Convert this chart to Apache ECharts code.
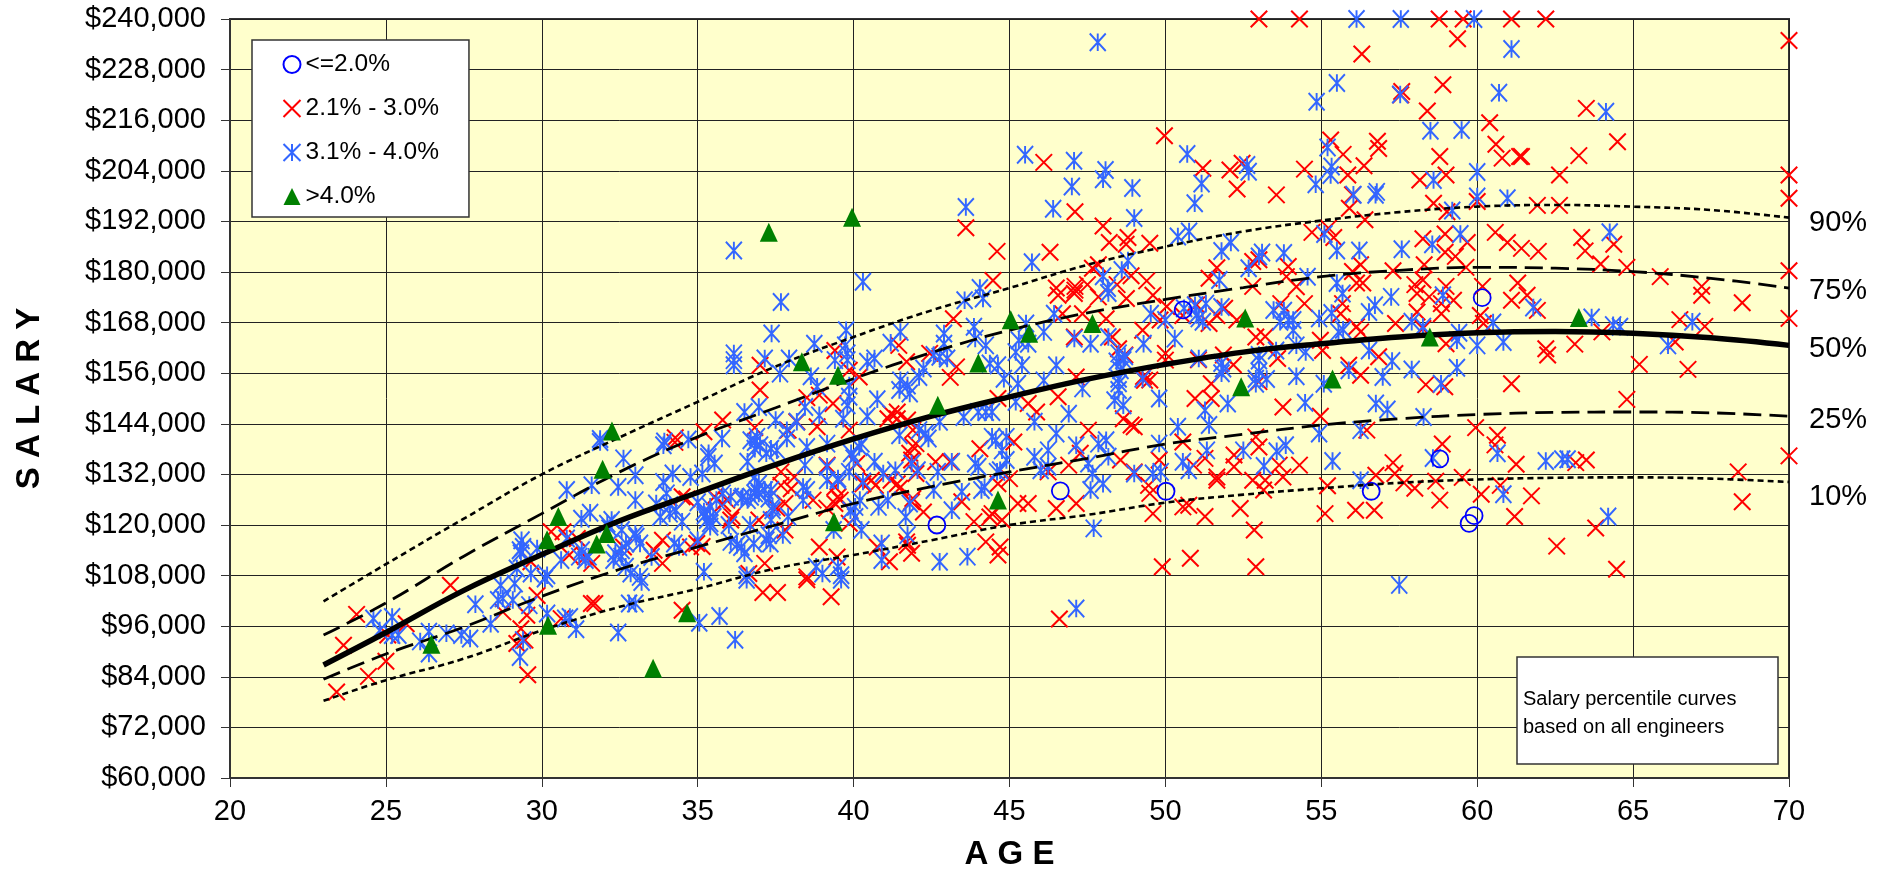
<!DOCTYPE html>
<html><head><meta charset="utf-8">
<style>html,body{margin:0;padding:0;background:#fff}#c{width:1889px;height:870px}</style>
<script src="https://cdn.jsdelivr.net/npm/echarts@6/dist/echarts.min.js"></script>
</head><body><div id="c"></div>
<script>
const curveAge=[23,25,27.5,30,32.5,35,37.5,40,42.5,45,47.5,50,52.5,55,57.5,60,62.5,65,67.5,70];
const p90=[101.9,110.7,121.5,132,140.8,149.2,157.6,164.6,170.9,176.2,181.7,186,189.6,192.2,194.2,195.5,195.9,195.5,194.7,192.9];
const p75=[93.9,101.5,112.6,122.7,132.6,140.9,147.8,154.7,160.9,166.2,170.3,173.5,176.3,178.9,180.4,181.1,180.9,180.1,178.5,176.2];
const p50=[86.8,94.5,104.5,113,121,127.7,134.3,140.4,145.8,150.4,154.6,158.1,161,163,164.6,165.6,165.9,165.5,164.4,162.6];
const p25=[83.4,89.4,95.8,103.1,109.5,114.8,120,125.1,129.1,132.6,135.8,139.2,141.5,143.7,145.2,146.2,146.7,146.8,146.6,145.8];
const p10=[78.3,83.2,88.3,95,100.6,104.9,109.7,112.9,116.4,120,122.4,125.3,127.2,128.7,130,130.8,131.2,131.3,131,130.2];
const circlePts=[[60.16,173.9],[50.57,171],[42.67,120],[46.63,128.1],[50.02,128],[58.8,135.7],[56.6,128],[59.74,120.4],[59.9,122.2]];
const trianglePts=[[37.28,189.4],[39.95,193],[38.34,158.7],[39.5,155.5],[42.7,148.4],[44,158.4],[45.04,168.7],[45.63,165.5],[47.66,167.8],[52.56,169.1],[52.43,152.8],[44.63,125.9],[39.37,120.8],[63.26,169.2],[58.48,164.6],[55.36,154.6],[32.25,142.3],[31.95,133.2],[30.53,122],[30.17,116.5],[32.08,118],[31.76,115.5],[26.46,91.7],[30.2,96.2],[33.57,86],[34.66,99.2]];
const redPts=[
[43.2,168.9],[41.45,162.6],[41.7,158.7],[42.44,160.7],[43.3,157.5],[43.1,155],[37,157.9],[37,152],[39.4,161.4],[39.86,156.7],[40.18,155.1],[38.5,150.2],[38.9,150.8],[39.34,148.8],[35.8,144.9],[35.2,142.1],[34.28,140.7],[36.83,143.1],[38.83,143.3],[38.18,144.5],[37.9,142.5],[41.2,146.4],[41.4,146.8],[41.1,145.2],[41.4,145.2],[41.73,144.9],[39.86,142.5],[41.9,142.5],[42,139.3],[41.8,137],[39.15,134.2],[40.1,134.6],[37.67,132.6],[38.1,131.4],[37.67,129.4],[38,128.6],[37.8,125.1],[38.7,125.9],[39.4,129],[39.5,126.7],[35.8,125.1],[35.54,126.7],[36.06,121.2],[36.96,121.2],[37.8,118.8],[40.3,129.8],[40.57,130.6],[40.7,129.4],[41.2,130.6],[41.4,129.8],[41.47,128.7],[41.86,135.4],[42,132.2],[42.63,135],[43.1,135],[42.24,123.1],[41.86,125.5],[43.86,120.8],[44.44,122.7],[44.37,121.9],[44.76,121.2],[43.47,125.5],[44.63,129.8],[45,131],[44.05,138.1],[45.14,139.7],[45.27,125.1],[45.6,125.1],[46.5,123.9],[47.14,125.1],[44.24,116],[44.7,114.8],[44.63,112.9],[46.24,132.6],[46.9,134.2],[47.27,137],[47.53,142.5],[48.56,135.4],[49,132.6],[49.46,129.4],[49.5,127.5],[49.6,122.7],[49.8,135.4],[50.56,124.3],[50.75,124.7],[51.27,122],[50.56,139.7],[50.9,134.2],[51.27,135.8],[52.2,136.6],[52.2,133.8],[51.65,131.4],[51.65,130.6],[52.8,130.6],[52.4,123.9],[48.65,145.2],[49,143.3],[48.9,143.7],[50.95,150],[51.47,153.5],[51.47,150],[49.9,110.1],[50.8,112.1],[52.9,110.1],[46.56,174.5],[47.08,174.9],[47.85,174.1],[48.75,173.7],[49.6,174.5],[46.7,170.1],[48.1,168.9],[47.34,170.1],[49.27,166.2],[50.56,169.7],[51.4,167.8],[51.65,169.7],[47.08,164.6],[48.3,164.6],[48.5,161.8],[48.7,160.3],[47.14,155.1],[46.56,150.4],[49.33,154.3],[50,159.1],[50,160.7],[45.6,148.8],[45.87,146.8],[44.63,150],[38.9,114.8],[39.47,112.4],[37.15,110.9],[36.64,108.5],[38.5,107.7],[41.15,111.3],[40.76,114.8],[41.73,115.2],[41.86,113.3],[33.87,116.4],[33.6,114],[33.87,110.9],[34.77,114.8],[39.86,120.4],[39.4,125.1],[34.5,126.7],[35.93,125.9],
[53,240],[49.97,212.3],[46.1,206],[51.2,204.6],[52.07,204.2],[52.46,205.8],[52.3,199.7],[47.1,194.3],[43.6,190.5],[48,190.9],[48.8,188.2],[48.2,187],[49.5,186.8],[44.6,184.9],[46.3,184.7],[44.47,178],[47.66,180.9],[47.85,181.7],[48.9,179.1],[49.4,177.9],[48.45,177],[51.65,181],[51.4,178.5],[53,182.9],[52.8,176.6],[47.5,177],[47.1,176.6],[46.5,176.2],
[54.3,240],[58.78,240],[59.55,240],[61.1,240],[62.2,240],[59.37,235.3],[56.3,231.7],[70,234.9],[58.9,224.4],[57.55,222],[57.58,222.8],[58.4,218.2],[60.4,215.4],[63.5,218.8],[60.6,210.3],[64.5,210.9],[55.3,211.3],[56.8,211],[56.84,209.3],[55.7,207.9],[58.8,207.4],[60.8,207],[61.36,207.4],[61.42,207.4],[63.26,207.6],[54.46,204.4],[56.37,205.2],[55.85,203],[58.16,201.8],[59,203],[62.64,203],[70,203],[70,197.5],[53.56,198.3],[56,198.3],[55.9,195.1],[56.4,192.4],[58.6,196.3],[59.03,194.3],[60,196.7],[61.93,195.8],[62.64,195.8],[54.7,189.4],[55.23,190.4],[55.4,188.2],[58.26,187.9],[58.97,189],[59.68,187],[60.58,189.4],[60.97,187],[61.42,185.6],[61.96,184.9],[63.35,188.2],[63.46,185],[64.38,186.6],[63.96,181.9],[64.8,181.1],[65.87,178.9],[70,180.3],[58.97,184.7],[59.3,183.7],[58.3,181.7],[59.64,181.1],[56.26,181.7],[57.3,180.3],[56,180.1],[53.94,181.3],[53.88,178.9],[56.13,177.4],[56.33,177.4],[58.26,178.1],[58,177],[59,176.6],[60.17,176.6],[61.3,177.4],[67.2,176.6],
[54.46,172.5],[53.7,172.5],[55.68,172.5],[58.07,174.9],[58.46,174.1],[59.24,173.3],[58.85,172.5],[58.07,170.5],[58.85,170.1],[60.1,169.7],[61.1,173.3],[61.6,174.5],[61.93,170.9],[67.2,174.5],[68.5,172.7],[66.5,168.7],[67.3,167.1],[70,169],[57.38,167.8],[56.13,167],[56.26,165.8],[55.62,170.1],[58.26,166.6],[60.2,167.8],[52.9,164.6],[54.97,163.8],[55.04,161.4],[53.6,159.5],[59,163],[62.2,161.8],[62.26,160.3],[63.13,162.9],[64,165.8],[66.35,163.4],[56.84,159.9],[55.88,157.9],[56.26,155.5],[58.35,153.3],[58.96,152.8],[61.1,153.5],[65.2,158.1],[66.76,156.9],[64.8,149.8],[53.77,148],[54.97,145.8],[56.46,142.5],[59.95,143.1],[60.65,141.3],[60.57,139],[58.88,139.2],[52.9,140.9],[53,138.5],[53.65,134.2],[54.3,134.2],[53.77,131.4],[53.2,130.6],[53.15,128.3],[55.2,129.3],[56.75,131.8],[57.3,134.8],[57.36,132.2],[57.65,130],[58,128.7],[58.67,130.4],[59.52,131.3],[60.74,129.4],[61.25,134.4],[61.74,126.9],[60.13,127.3],[58.8,125.9],[63.5,135.4],[63.16,134.8],[68.37,132.6],[70,136.4],[68.5,125.5],[56.7,123.5],[56.1,123.5],[55.12,122.7],[61.2,122],[63.8,119.3],[62.55,115],[64.47,109.5],[52.85,118.8],
[23.42,80.4],[24.44,84.1],[23.64,91.5],[24.06,98.8],[25,87.7],[25.06,93.9],[25.65,96.6],[27.07,105.7],[28.75,99.4],[29.33,95.4],[29.2,91.9],[29.46,92.7],[29.55,84.5],[29.52,98.6],[29.85,103.3],[30.62,97.8],[31.59,101.4],[31.7,101.4],
[30.3,118.4],[30.68,118.4],[31.14,116.8],[30.88,112.9],[31.4,112.5],[31.6,110.9],[29.65,111.3],[32.62,114.8],[37.09,104],[37.56,104],[38.5,107],[39.28,103],[34.5,99.8],[46.6,97.7]
];
const redExtra=[
[30.37,118.7],[30.7,118.3],[31.1,117.1],[30.9,112.8],[31.3,112.8],[31.55,111.6],[32.5,114.4],[33.8,116.8],[33.63,114],[33.9,111.2],[29.63,110.8],[34.65,126.2],[34.97,115.6],[34.27,139.6],
[35.24,142.1],[36.84,143.3],[38.82,143.3],[37.75,132.6],[38,129],[38.2,131.8],[37.75,125.1],[37.54,124],[39.36,129],[39.57,125.9],[38.66,125.9],[39.14,124],[40.2,135],[40.3,130.3],[40.8,129.5],[40.7,130.7],[41.4,130.3],[41.5,129.5],[42.25,123.1],[41.9,126.3],[41.76,135.4],[42.57,135.4],[41.9,138.6],[36.1,122],[36.96,121.2],[37.8,119.2],[35.83,125.1],[35.5,127],[39.95,120],[38.88,114.9],[37.1,110.9],[39.4,112.5],[40.75,114.5],[41.17,111.3],[41.7,116],[41.8,113.7],[35.14,114.9],
[48.12,186.4],[48.74,186.6],[49.48,186.6],[47.85,181.7],[47.64,180.9],[48.92,178.9],[48.44,177.3],[47.1,175.7],[47.58,176.5],[47.96,173.4],[48.76,173.5],[49.4,177.7],[49.56,175],[46.67,174.6],[46.8,170.2],[47.3,169.4],[48.1,169],[50.04,171.8],[49.83,168.6],[50.6,169.8],[49.24,165.9],[48.22,165],[47.05,165],[48.28,163.9],[48.6,160.7],[50.04,160.3],[49.94,158.8],[51.06,159.2],[51.43,153.6],[49.3,155.2],[49.5,154.4],[51.65,181.3],[51.38,178.5],[52.8,182.5],[52.72,176.1],[54,181.3],[53.9,178.5],[53.7,172.7],[54.2,176.5],[53.2,164.7],[53.68,160],[52.29,168.6],[51.9,171.4],[51.65,169.8],[51.38,167.8],[51,172.2],[52.18,158],[51.86,160.3],[47.15,155.6],[53,154]
];
const bluePts=[
[37.67,172.9],[37.37,165.4],[36.16,159.1],[36.16,160.7],[36.16,157.9],[37.15,159.5],[37.93,159.5],[37.64,155.9],[38.74,163],[38.63,155.3],[39.76,166.2],[39.73,162.6],[39.8,160.7],[39.8,159.1],[39.4,159.1],[40.44,158.7],[40.67,159.5],[41.5,165.8],[41.19,163.2],[42.9,165.4],[42.9,163],[43.86,167],[43.9,164.2],[44.24,162.6],[43.56,173.3],[44.15,173.7],[42.57,160.3],[42.76,159.9],[43,159.5],[42.24,157.1],[42.1,155.1],[41.5,154.3],[41.73,153.1],[41.47,152],[41.8,151.2],[40.76,149.8],[39.86,153.1],[39.86,150.4],[39.8,148.4],[38.83,152.8],[38.44,148],[38.9,146],[36.5,146.8],[36.96,148],[37.5,144.9],[38.18,144.5],[37.86,140.5],[37.86,142.5],[40.44,145.8],[39.67,145.2],[34.7,140.3],[35.35,137],[35.54,134.6],[33.93,139.8],[36.7,140.1],[36.9,140.9],[37,138.9],[36.83,138.1],[37.35,138.1],[37.2,137],[37.54,137.7],[36.6,135],[38.5,138.5],[38.44,134.2],[39.15,139.3],[41.47,141.3],[42.1,142.5],[42.4,140.5],[42.3,141.7],[40.25,139.3],[40.18,138.5],[39.92,137],[40.67,135],[39.15,133.8],[39.86,132.6],[39.5,131],[41.34,133],[40.95,132.2],[41.86,134.6],[42.05,133],[42.7,132.6],[33,131.8],[33.9,130.2],[34.2,132.2],[34.77,131.4],[35.15,132.2],[34,127.5],[33,125.9],[33.67,125.1],[34.1,122.7],[34.3,123.5],[33.8,121.9],[34.5,120.8],[35.4,124.3],[35.5,121.9],[35.3,121.2],[35.4,119.6],[35.8,127.5],[36.06,126.7],[36.44,126.7],[36.7,126.7],[36.83,131.4],[36.96,129.8],[36.96,127.5],[37.15,128.3],[37.35,128.3],[37.28,126.3],[37.4,123.5],[37.35,121.2],[36.83,127.5],[36.4,126.3],[38.38,129],[38.38,125.9],[38.5,128.3],[39.15,130.6],[39.5,130.6],[40.05,124.3],[40.05,121.9],[39.9,123.5],[40.25,118.8],[41.1,125.9],[40.8,124.3],[41.67,121.9],[41.8,125.1],[41.73,117.6],[43.15,123.5],[43.47,127.9],[44.1,128.3],[44,133.8],[43.9,134.6],[43.15,135],[42.57,128.3],[44.44,140.9],[44.56,140.1],[44.9,140.9],[44.76,137.7],[44.9,135.4],[44.7,133],[44.6,132.6],[44.2,129],[46.5,141.7],[46.24,137.7],[46.24,133.8],[47.14,138.9],[45.8,136.2],[46,133],[48.1,140.1],[47.85,139.3],[48.17,136.2],[47.53,134.6],[47.66,132.2],[48,129.8],[47.6,128.3],[49,132.2],[49.6,132.2],[49.85,132.6],[49.8,139.3],[50.4,143.3],[50.56,135],[51.33,137.7],[52.5,137.7],[50.75,133],[47.7,119.2],[42.76,111.3],[43.65,112.5],[40.9,115.6],[40.9,111.7],[35.2,108.9],[39.5,110.1],[38.8,110.1],[39,108.5],[39.6,108.1],[36.57,108.1],[33.15,107.7],[37.28,117.6],[37.2,116.4],[37.73,117.6],[36.5,113.3],[36.06,116],[36.4,114.8],[35,116.4],[34.4,114.8],[34.25,115.6],[33.03,117.2],[46.43,170.1],[45.53,167.8],[46.1,165.8],[45.3,163.8],[45.2,161],[45.6,163],[44.63,157.9],[44.37,158.3],[44.82,154.7],[45.4,157.9],[45.27,153.5],[46.5,157.9],[46.1,154.3],[47.34,152.4],[46.9,146.4],[45.8,144.5],[43.53,145.6],[44,146.8],[44.24,146.8],[44.44,146.8],[42.76,144.5],[45.2,149.2],[47.08,164.2],[47.6,163],[48.17,164.6],[49.3,163],[50.3,164.2],[48.5,160.7],[48.65,159.1],[48.56,156.7],[48.5,154.7],[48.5,152],[48.37,149.6],[48.65,148.4],[49.27,154.7],[49.8,150],[49.53,170.1],[50,168.6],[50.95,172.1],[51.3,172.5],[51.8,171.7],[51.07,169],[51.07,159.5],[51.85,157.1],[52,148.8],[51.27,147.2],[51.4,143.7],[52.9,153.5],[53,159],
[47.83,234.5],[45.5,207.8],[47.07,206.4],[48.08,204.2],[48,202],[47,200.3],[48.94,199.9],[43.6,195.4],[46.4,195],[49,192.8],[50.7,208],[51.16,201],[50.94,196.3],[50.4,188.4],[50.76,189.6],[51.8,185],[52.1,187],[52.67,180.9],[51.73,178.1],[52.62,205.4],[52.67,203.8],[53,183.7],[36.16,185.1],[40.3,177.7],[45.72,182.3],[44.05,176.2],[48.8,182.7],[48.6,180.5],[48,179],[48.15,176.2],
[56.13,240],[57.55,240],[59.9,240],[61.1,232.9],[55.5,224.8],[54.85,220.4],[57.53,222.1],[60.7,222.5],[64.13,218],[58.5,213.5],[59.5,213.7],[55.2,209.5],[55.33,205],[55.3,203],[54.82,200.8],[56.03,198.3],[56.74,198.3],[56.78,199],[58.6,201.8],[60,203.7],[60,197.9],[60.97,197.5],[59.2,194.6],[55.1,189],[59.46,189],[58.56,186.6],[57.58,185.4],[56.22,185.1],[55.5,185.1],[53.8,184.5],[53.1,184.6],[64.25,189.4],[54.56,178.9],[55.5,177.4],
[53.8,170.8],[54.1,168.6],[54.93,169],[55.33,170.3],[55.68,174.9],[56.53,170.5],[56.72,172.1],[57.24,174.1],[58.9,174.5],[57.9,168.2],[58.26,167],[60.51,168],[61.8,171.6],[63.67,169.2],[64.36,167.4],[64.58,167],[66.9,168.2],[66.12,162.6],[55.55,165.8],[55.7,166.3],[54.1,166.2],[54.2,162.6],[54.5,161],[53.55,161.4],[56.53,161.4],[57.27,158.9],[57.9,156.9],[59.35,157.3],[59.35,163.8],[59.42,165.6],[60,162.6],[60.84,163.4],[54.2,155.3],[55.88,156.7],[56.97,155.1],[55.08,153.5],[58.84,153.5],[52.9,154.7],[54.48,149],[56.75,148.8],[57.12,147.4],[58.28,145.6],[54.93,141.7],[56.26,142.5],[53.86,138.9],[53.57,137.5],[53.16,134],[55.36,135.2],[56.26,130.6],[58.58,135.9],[60.65,137],[62.2,135.2],[62.73,135.6],[62.9,135.6],[60.84,127.3],[64.2,122],[57.5,105.8],
[24.6,97.8],[25.2,98.2],[24.8,95],[25.2,93.9],[25.4,93.9],[26.38,94.7],[26.1,92.4],[26.38,89.5],[26.94,94.3],[27.42,93.9],[27.7,93.1],[27.87,101.2],[28.36,96.6],[28.6,102.2],[28.75,102.6],[29.07,102.2],[28.68,105.7],[29.13,106.1],[30.1,107.3],[29.4,92.7],[29.3,88.7],[29.6,101],[30.17,99],[30.75,97.8],[30.9,98.2],[31.1,95.3],[32.45,94.5],[32.8,101.4],
[31.87,140.4],[32.62,135.8],[31.6,129.4],[32.45,129],[30.8,128.3],[31.27,121.5],[31.55,122.9],[32.24,121.2],[29.4,114.8],[29.33,113.3],[29.85,114.4],[30.62,111.7],[30.8,116.8],[29.2,109.7],[29.65,108.5],[30.17,108.1],[31.2,112.5],[31.4,111.7],[31.5,112.5],[32.36,113.3],[32.3,111.7],[32.56,112.5],[32.17,119.2],[32.56,118.8],[32.69,110.1],
[33,101.4],[35.05,96.8],[35.7,98.4],[36.2,92.8],[47.14,100.2],[33.2,106.5],[36.57,107],[39.6,107]
];
const blueExtra=[
[32.94,131.5],[32.9,125.6],[32.1,120.3],[32.46,119.1],[33,117.9],[33.15,115.6],[32.7,115.6],[29.3,115.2],[29.3,114],[29.35,116.4],[30.6,111.8],[30.8,117.1],[29.2,110],[28.66,105.7],[29.1,106.2],[31.23,112.8],[31.1,112.4],[31.4,111.6],[31.28,114],[32.24,112.8],[32.3,111.6],[32.4,113.2],[32.56,114],[32.67,109.6],[32.85,108.5],[33.18,107],[33.52,112.4],[34.27,115.6],[34.4,114.8],[33.74,122.3],[34.17,122.3],[34.54,120.7],[34.38,123.9],[34.11,124.7],[33.95,130.2],[33.95,127.4],[34.22,131.8],[34.75,131.2],[35.13,131.8],[35,125.4],[35.23,122.3],[35.34,136.1],[33.9,138.9],[31.87,139.7],
[35.78,140.5],[36.84,139.7],[36.95,140.1],[36.73,139],[37,139],[37.38,138.2],[37.6,137.8],[38.52,138.6],[39.25,138.7],[40,135.8],[40.27,139],[36.63,135],[38.5,134.2],[39.14,133.4],[39.84,132.6],[40.64,135],[41.4,140.9],[42.35,140],[41.4,133],[42,133],[42.6,132.2],[36.84,130.3],[36.9,128.3],[37.27,128.3],[36.6,125.9],[36.4,125.9],[35.77,127.5],[35.6,125.9],[35.4,123.9],[35.2,123.2],[35.4,120.4],[35.3,122],[38.4,128.3],[38.56,129],[38.34,125.9],[39.1,131],[39.14,129.9],[39.57,130.7],[37.4,124.3],[37.9,122],[36.68,120],[36,120],[36,116.4],[36.47,114.5],[36.26,115.3],[36.8,115.6],[37.27,118],[37.33,115.6],[37.76,117.2],[39.36,118.8],[40.2,118.8],[39.95,122],[40.05,124],[40.2,125.9],[40.8,124],[41.6,122.4],[41.93,125.1],[40.9,115.6],[40.85,111.7],[40.3,130.3],
[51.8,185.2],[52.07,186.6],[53,184.6],[53.84,184.4],[47.96,178.9],[48.17,175],[52.77,180.5],[51.73,178],[49.5,170],[50,168.6],[50.6,171.4],[50.95,172.6],[51.27,172.6],[51.75,171.8],[51,169.8],[51.2,168.2],[53.47,171],[53.68,168.2],[53.95,168.6],[54.1,166.3],[47.05,164.4],[47.58,163.1],[48.1,164.8],[49.35,163.1],[50.31,164.3],[48.55,160.7],[48.44,158.8],[48.7,160],[47.3,152.8],[48.5,153.6],[49.24,154.8],[51.1,159.2],[51.8,158.4],[51.8,156],[53,160.3],[53,156.4],[53.25,154.6],[53.57,161.1],[54.16,155.2]
];
const xTicks={min:20,max:70,step:5};
const yTicks={min:60,max:240,step:12};
const seriesNames=['<=2.0%','2.1% - 3.0%','3.1% - 4.0%','>4.0%'];
const curveLabels=['90%','75%','50%','25%','10%'];
const noteLines=['Salary percentile curves','based on all engineers'];

const FONT='"Liberation Sans",Arial,sans-serif';
const X_PATH='path://M0 0L10 10M10 0L0 10';
const STAR_PATH='path://M0 0L10 10M10 0L0 10M5 0L5 10';
const zip=(a,b)=>a.map((v,i)=>[v,b[i]]);
// the same mark can appear in two overlapping readings: keep one of each
const merge=(a,b)=>{const out=a.slice();b.forEach(p=>{if(!out.some(q=>Math.abs(q[0]-p[0])<0.14&&Math.abs(q[1]-p[1])<0.7))out.push(p);});return out;};
function curve(name,vals,w,type,z,off){
  return {name,type:'line',data:zip(curveAge,vals),smooth:0.4,showSymbol:false,symbol:'none',silent:true,z:5,clip:false,
    lineStyle:{color:'#000',width:w,type:type,cap:'butt'},
    endLabel:{show:true,formatter:name,color:'#000',fontFamily:FONT,fontSize:29,distance:20,offset:[0,off]}};
}
function pts(name,data,symbol,size,style,z){
  return {name,type:'scatter',data,symbol,symbolSize:size,clip:false,silent:true,z,itemStyle:Object.assign({opacity:1},style)};
}
const chart=echarts.init(document.getElementById('c'),null,{renderer:'canvas'});
chart.setOption({
 animation:false,backgroundColor:'#fff',
 grid:{left:230,right:100,top:19,bottom:92,outerBoundsMode:'none',containLabel:false,show:true,backgroundColor:'#FFFFCC',borderColor:'#333',borderWidth:2},
 xAxis:{type:'value',min:xTicks.min,max:xTicks.max,interval:xTicks.step,name:'A G E',nameLocation:'middle',nameGap:60,
   nameTextStyle:{fontFamily:FONT,fontSize:33,fontWeight:'bold',color:'#000'},
   axisLine:{show:true,onZero:false,lineStyle:{color:'#333',width:2}},axisTick:{show:true,length:9,lineStyle:{color:'#333'}},
   axisLabel:{margin:19,fontFamily:FONT,fontSize:29,color:'#000'},splitLine:{show:true,lineStyle:{color:'#222',width:1}}},
 yAxis:{type:'value',min:yTicks.min,max:yTicks.max,interval:yTicks.step,name:'S A L A R Y',nameLocation:'middle',nameGap:184,
   nameTextStyle:{fontFamily:FONT,fontSize:33,fontWeight:'bold',color:'#000'},
   axisLine:{show:true,onZero:false,lineStyle:{color:'#333',width:2}},axisTick:{show:true,length:9,lineStyle:{color:'#333'}},
   axisLabel:{margin:24,fontFamily:FONT,fontSize:29,color:'#000',formatter:v=>'$'+v+',000'},splitLine:{show:true,lineStyle:{color:'#222',width:1}}},
 legend:{data:seriesNames,orient:'vertical',left:252,top:40,z:20,padding:[11,30,7,29],itemWidth:17,itemHeight:17,itemGap:17,
   backgroundColor:'#fff',borderColor:'#333',borderWidth:1.5,selectedMode:false,
   textStyle:{fontFamily:FONT,fontSize:24.5,color:'#000',lineHeight:27}},
 series:[
  pts(seriesNames[1],merge(redPts,redExtra),X_PATH,[16.5,16.5],{color:'none',borderColor:'#FF0000',borderWidth:2},2),
  pts(seriesNames[2],merge(bluePts,blueExtra),STAR_PATH,[16,17.5],{color:'none',borderColor:'#3366FF',borderWidth:2},3),
  pts(seriesNames[0],circlePts,'circle',17,{color:'none',borderColor:'#0000FF',borderWidth:1.8},4),
  curve(curveLabels[0],p90,2.6,[6,4],5,5),
  curve(curveLabels[1],p75,2.8,[18,8],5,3),
  curve(curveLabels[2],p50,5.5,'solid',5,4),
  curve(curveLabels[3],p25,2.8,[18,8],5,4),
  curve(curveLabels[4],p10,2.6,[6,4],5,15),
  pts(seriesNames[3],trianglePts,'triangle',[18,19],{color:'#008000'},6)
 ],
 graphic:[
   {type:'rect',z:30,shape:{x:1517,y:657,width:261,height:107},style:{fill:'#fff',stroke:'#333',lineWidth:1.5}},
   {type:'text',z:31,x:1523,y:685,style:{text:noteLines.join('\n'),font:'20px '+FONT,fill:'#000',lineHeight:28}}
 ]
});
</script></body></html>
